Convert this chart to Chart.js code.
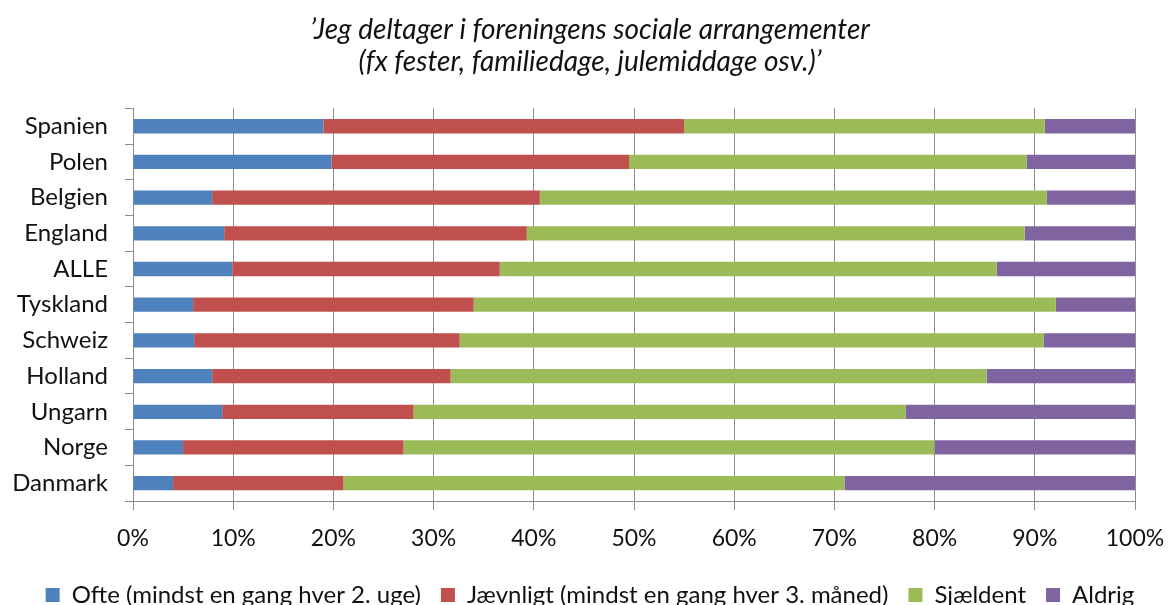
<!DOCTYPE html>
<html>
<head>
<meta charset="utf-8">
<script src="https://cdn.jsdelivr.net/npm/chart.js@4"></script>
<style>
  html, body { margin: 0; background: #fff; }
</style>
</head>
<body>
<canvas id="chart" width="1168" height="605"></canvas>
<script>
const countries = ['Spanien', 'Polen', 'Belgien', 'England', 'ALLE', 'Tyskland', 'Schweiz', 'Holland', 'Ungarn', 'Norge', 'Danmark'];
const ofte      = [19.0, 19.8, 7.9, 9.1, 9.9, 6.0, 6.1, 7.9, 8.9, 5.0, 4.0];
const jaevnligt = [36.0, 29.7, 32.7, 30.2, 26.7, 28.0, 26.5, 23.8, 19.1, 22.0, 17.0];
const sjaeldent = [36.0, 39.7, 50.6, 49.7, 49.6, 58.1, 58.3, 53.5, 49.1, 53.0, 50.0];
const aldrig    = [9.0, 10.8, 8.8, 11.0, 13.8, 7.9, 9.1, 14.8, 22.9, 20.0, 29.0];

const seriesNames = ['Ofte (mindst en gang hver 2. uge)', 'Jævnligt (mindst en gang hver 3. måned)', 'Sjældent', 'Aldrig'];
const titleLines = ['’Jeg deltager i foreningens sociale arrangementer', '(fx fester, familiedage, julemiddage osv.)’'];

const FONT = 'Lato, "Open Sans", sans-serif';
const gridColor = '#8c8c8c';
const textColor = '#111';

function bar(label, data, color) {
    return {
        label: label,
        data: data,
        backgroundColor: color,
        borderWidth: 0,
        barPercentage: 0.4,
        categoryPercentage: 1.0
    };
}

const ctx = document.getElementById('chart');

new Chart(ctx, {
    type: 'bar',
    data: {
        labels: countries,
        datasets: [
            bar(seriesNames[0], ofte, '#4f81bd'),
            bar(seriesNames[1], jaevnligt, '#c0504d'),
            bar(seriesNames[2], sjaeldent, '#9bbb59'),
            bar(seriesNames[3], aldrig, '#8064a2')
        ]
    },
    options: {
        indexAxis: 'y',
        responsive: false,
        animation: false,
        // left padding keeps title and legend centred like the original
        layout: { padding: { left: 12, right: 0, top: 0, bottom: -12 } },
        scales: {
            x: {
                stacked: true,
                min: 0,
                max: 100,
                ticks: {
                    stepSize: 10,
                    callback: v => v + '%',
                    color: textColor,
                    font: { family: FONT, size: 23 },
                    padding: 15
                },
                grid: { color: gridColor, lineWidth: 1, tickLength: 9 },
                border: { color: gridColor, width: 1 },
                afterFit: s => { s.height = 62; s.paddingRight = 33; }
            },
            y: {
                stacked: true,
                ticks: {
                    color: textColor,
                    font: { family: FONT, size: 24 },
                    padding: 17
                },
                grid: { drawOnChartArea: false, color: gridColor, tickLength: 8, offset: true },
                border: { color: gridColor, width: 1 },
                afterFit: s => { s.width = 121; }
            }
        },
        plugins: {
            tooltip: { enabled: false },
            title: {
                display: true,
                text: titleLines,
                color: textColor,
                font: { family: FONT, size: 28, style: 'italic', weight: 'normal', lineHeight: 1.15 },
                padding: { top: 14, bottom: 30 }
            },
            legend: {
                position: 'bottom',
                labels: {
                    boxWidth: 14,
                    boxHeight: 14,
                    color: textColor,
                    font: { family: FONT, size: 24 },
                    padding: 20
                }
            }
        }
    }
});
</script>
</body>
</html>
